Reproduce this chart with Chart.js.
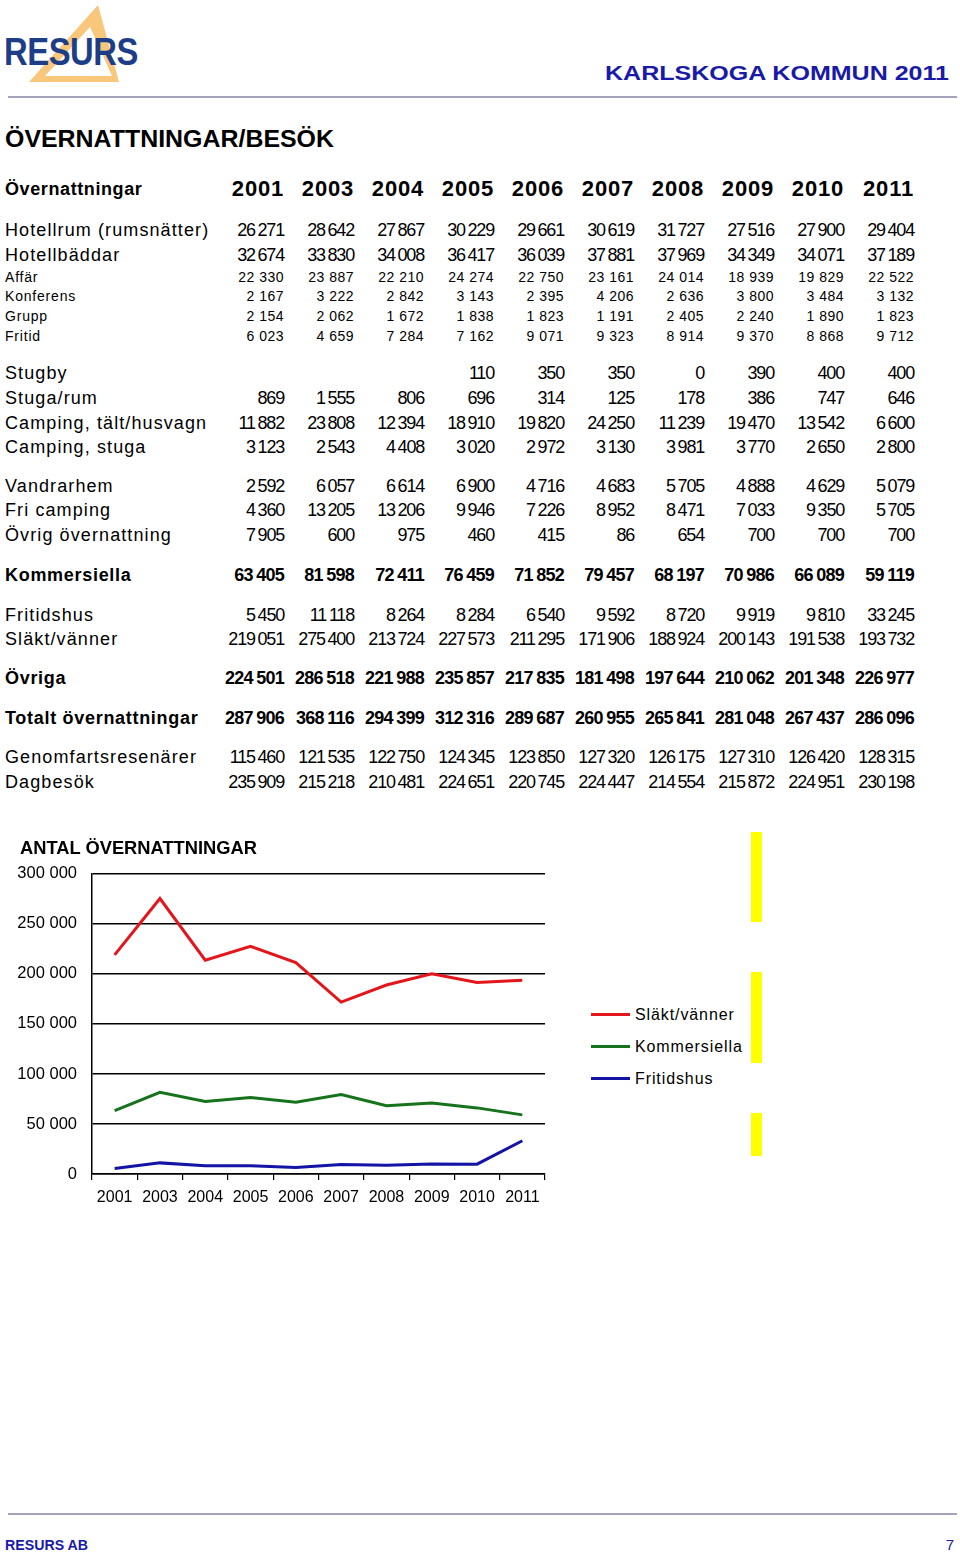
<!DOCTYPE html>
<html><head><meta charset="utf-8">
<script src="https://cdn.jsdelivr.net/npm/chart.js@4.4.0/dist/chart.umd.min.js"></script>
<style>
html,body{margin:0;padding:0}
body{width:960px;height:1556px;position:relative;background:#fff;font-family:"Liberation Sans",Arial,sans-serif;color:#000;overflow:hidden}
.a{position:absolute;white-space:nowrap}
.hr{position:absolute;left:8px;width:949px;height:2px;background:#a3a3bf}
.yb{position:absolute;left:751px;width:11px;background:#ffff00}
.lg{position:absolute;left:591px;width:39px;height:3px}
</style></head><body>
<svg class="a" style="left:0;top:0" width="160" height="100">
  <path fill="#f9c77b" fill-rule="evenodd" d="M98 5 L29 82 L119 82 Z M90 27 L45 76 L112 76 Z"/>
</svg>
<div id="chartbox" class="a" style="left:0;top:849px;width:560px;height:375px"><canvas id="c" width="560" height="375"></canvas></div>
<div class="hr" style="top:96px"></div>
<div class="hr" style="top:1513px"></div>
<div class="yb" style="top:832px;height:90px"></div>
<div class="yb" style="top:972px;height:91px"></div>
<div class="yb" style="top:1113px;height:43px"></div>
<script>
// ---------- data ----------
const years = ['2001','2003','2004','2005','2006','2007','2008','2009','2010','2011'];
const hotellrum = [26271,28642,27867,30229,29661,30619,31727,27516,27900,29404];
const hotellbaddar = [32674,33830,34008,36417,36039,37881,37969,34349,34071,37189];
const affar = [22330,23887,22210,24274,22750,23161,24014,18939,19829,22522];
const konferens = [2167,3222,2842,3143,2395,4206,2636,3800,3484,3132];
const grupp = [2154,2062,1672,1838,1823,1191,2405,2240,1890,1823];
const fritid = [6023,4659,7284,7162,9071,9323,8914,9370,8868,9712];
const stugby = [null,null,null,110,350,350,0,390,400,400];
const stugaRum = [869,1555,806,696,314,125,178,386,747,646];
const campingTalt = [11882,23808,12394,18910,19820,24250,11239,19470,13542,6600];
const campingStuga = [3123,2543,4408,3020,2972,3130,3981,3770,2650,2800];
const vandrarhem = [2592,6057,6614,6900,4716,4683,5705,4888,4629,5079];
const friCamping = [4360,13205,13206,9946,7226,8952,8471,7033,9350,5705];
const ovrigOvernattning = [7905,600,975,460,415,86,654,700,700,700];
const kommersiella = [63405,81598,72411,76459,71852,79457,68197,70986,66089,59119];
const fritidshus = [5450,11118,8264,8284,6540,9592,8720,9919,9810,33245];
const slaktVanner = [219051,275400,213724,227573,211295,171906,188924,200143,191538,193732];
const ovriga = [224501,286518,221988,235857,217835,181498,197644,210062,201348,226977];
const totalt = [287906,368116,294399,312316,289687,260955,265841,281048,267437,286096];
const genomfart = [115460,121535,122750,124345,123850,127320,126175,127310,126420,128315];
const dagbesok = [235909,215218,210481,224651,220745,224447,214554,215872,224951,230198];
const seriesNames = ['Släkt/vänner','Kommersiella','Fritidshus'];
const seriesColors = ['#e3161c','#17721c','#1313a6'];
const yMax = 300000, yStep = 50000;

// ---------- layout (positions/styles) ----------
const colRight = [284,354,424,494,564,634,704,774,844,914];
const styles = {
  head:{lab:'bold 18px "Liberation Sans"',labLs:0.6,num:'bold 22px "Liberation Sans"',numLs:0.8,ws:0},
  big:{lab:'18px "Liberation Sans"',labLs:1.1,num:'18px "Liberation Sans"',numLs:-1.2,ws:-1},
  small:{lab:'14px "Liberation Sans"',labLs:0.8,num:'14px "Liberation Sans"',numLs:0.5,ws:0},
  bold:{lab:'bold 18px "Liberation Sans"',labLs:0.7,num:'bold 18px "Liberation Sans"',numLs:-0.8,ws:-0.5}
};
const tableRows = [
  ['Övernattningar', years, 'head', 189],
  ['Hotellrum (rumsnätter)', hotellrum, 'big', 230],
  ['Hotellbäddar', hotellbaddar, 'big', 255],
  ['Affär', affar, 'small', 277],
  ['Konferens', konferens, 'small', 296],
  ['Grupp', grupp, 'small', 316],
  ['Fritid', fritid, 'small', 336],
  ['Stugby', stugby, 'big', 373],
  ['Stuga/rum', stugaRum, 'big', 398],
  ['Camping, tält/husvagn', campingTalt, 'big', 423],
  ['Camping, stuga', campingStuga, 'big', 447],
  ['Vandrarhem', vandrarhem, 'big', 486],
  ['Fri camping', friCamping, 'big', 510],
  ['Övrig övernattning', ovrigOvernattning, 'big', 535],
  ['Kommersiella', kommersiella, 'bold', 575],
  ['Fritidshus', fritidshus, 'big', 615],
  ['Släkt/vänner', slaktVanner, 'big', 639],
  ['Övriga', ovriga, 'bold', 678],
  ['Totalt övernattningar', totalt, 'bold', 718],
  ['Genomfartsresenärer', genomfart, 'big', 757],
  ['Dagbesök', dagbesok, 'big', 782]
];

function fmt(v){ return String(v).replace(/\B(?=(\d{3})+(?!\d))/g,' '); }
function txt(x, yc, s, font, opts){
  opts = opts||{};
  const d = document.createElement('div');
  d.className='a';
  d.textContent = s;
  d.style.font = font;
  const fs = parseFloat(font.match(/(\d+(\.\d+)?)px/)[1]);
  const lh = Math.round(fs*1.2);
  d.style.lineHeight = lh+'px';
  d.style.top = (yc - lh/2)+'px';
  if (opts.ls!=null) d.style.letterSpacing = opts.ls+'px';
  if (opts.ws!=null) d.style.wordSpacing = opts.ws+'px';
  if (opts.color) d.style.color = opts.color;
  if (opts.right) d.style.right = (960 - x)+'px'; else d.style.left = x+'px';
  document.body.appendChild(d);
  if (opts.width){
    const w = d.getBoundingClientRect().width;
    d.style.transformOrigin = opts.right ? 'right center' : 'left center';
    d.style.transform = 'scaleX('+(opts.width/w)+')';
  }
  return d;
}

// header / titles
txt(4, 52, 'RESURS', 'bold 38px "Liberation Sans"', {color:'#1d3d87', width:134, ls:-0.5});
txt(605, 72, 'KARLSKOGA KOMMUN 2011', 'bold 21px "Liberation Sans"', {color:'#1a1aa8', width:344});
txt(5, 139, 'ÖVERNATTNINGAR/BESÖK', 'bold 23px "Liberation Sans"', {width:329});
txt(5, 1545, 'RESURS AB', 'bold 15px "Liberation Sans"', {color:'#1a1aa8', width:83});
txt(954, 1545, '7', '15px "Liberation Sans"', {color:'#1a1aa8', right:true});

// table
tableRows.forEach(([label, vals, st, y])=>{
  const S = styles[st];
  txt(5, y, label, S.lab, {ls:S.labLs});
  vals.forEach((v,i)=>{
    if (v==null) return;
    const s = (typeof v === 'number') ? fmt(v) : v;
    txt(colRight[i], y, s, S.num, {right:true, ls:S.numLs, ws:S.ws});
  });
});

// chart title + legend
txt(20, 848, 'ANTAL ÖVERNATTNINGAR', 'bold 18px "Liberation Sans"', {width:237});
const legendY = [1014, 1046, 1078];
seriesNames.forEach((n,i)=>{
  const l = document.createElement('div');
  l.className='lg'; l.style.top=(legendY[i]-1.5)+'px'; l.style.background=seriesColors[i];
  document.body.appendChild(l);
  txt(635, legendY[i], n, '16px "Liberation Sans"', {ls:0.9});
});

// chart
Chart.defaults.font.family = '"Liberation Sans", Arial, sans-serif';
const seriesData = [slaktVanner, kommersiella, fritidshus];
new Chart(document.getElementById('c'), {
  type:'line',
  data:{
    labels: years,
    datasets: seriesNames.map((n,i)=>({
      label:n, data:seriesData[i], borderColor:seriesColors[i], backgroundColor:seriesColors[i],
      borderWidth:3, pointRadius:0, tension:0, fill:false
    }))
  },
  options:{
    responsive:false, animation:false, devicePixelRatio:1,
    layout:{padding:{top:2,right:15,left:0,bottom:0}},
    plugins:{legend:{display:false}, tooltip:{enabled:false}, title:{display:false}},
    scales:{
      x:{
        offset:true,
        grid:{offset:true, drawOnChartArea:false, drawTicks:true, tickLength:6, color:'#000', lineWidth:1.2},
        border:{color:'#000', width:1.5},
        ticks:{color:'#000', font:{size:16}, padding:8, maxRotation:0, autoSkip:false},
        afterFit(s){ s.height = 50; }
      },
      y:{
        min:0, max:yMax,
        grid:{color:'#000', lineWidth:1.5, drawTicks:false},
        border:{color:'#000', width:1.5},
        ticks:{stepSize:yStep, color:'#000', font:{size:16.5}, padding:15, callback:v=>fmt(v)},
        afterFit(s){ s.width = 92; }
      }
    }
  }
});
</script>
</body></html>
